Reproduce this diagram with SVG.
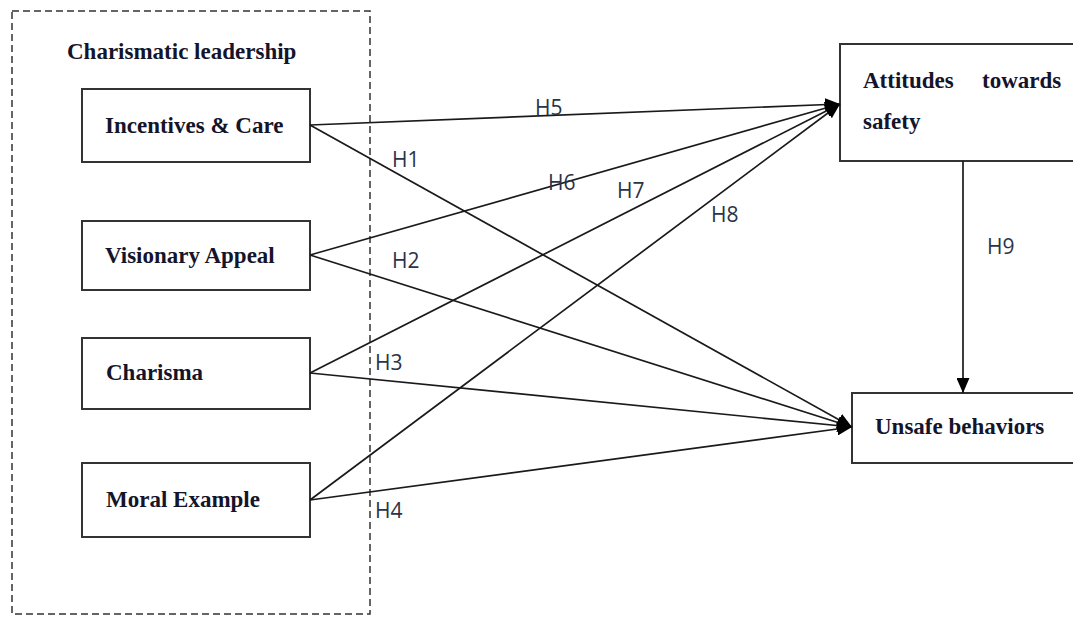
<svg xmlns="http://www.w3.org/2000/svg" width="1073" height="617" viewBox="0 0 1073 617">
  <style>
    .box { fill: #ffffff; stroke: #333333; stroke-width: 2; }
    .group { fill: none; stroke: #333333; stroke-width: 1.5; stroke-dasharray: 7 4; }
    .node-text { font-family: "Liberation Serif", "Times New Roman", serif; font-weight: bold; font-size: 23px; fill: #14142a; }
    .conn { fill: none; stroke: #1a1a1a; stroke-width: 1.7; }
    .lbl { font-family: "Open Sans", "Liberation Sans", sans-serif; font-size: 21px; fill: #2a3348; }
  </style>
  <defs>
    <marker id="arrow" markerUnits="userSpaceOnUse" markerWidth="15" markerHeight="13" refX="15" refY="6.5" orient="auto">
      <path d="M0,0 L15,6.5 L0,13 z" fill="#000000"/>
    </marker>
  </defs>
  <rect x="0" y="0" width="1073" height="617" fill="#ffffff"/>

  <g id="charismatic-leadership">
    <rect class="group" x="12" y="11" width="358" height="603"/>
    <text class="node-text" x="67" y="59">Charismatic leadership</text>
  </g>

  <g id="incentives-care">
    <rect class="box" x="82" y="89" width="228" height="73"/>
    <text class="node-text" x="105" y="133">Incentives &amp; Care</text>
  </g>

  <g id="visionary-appeal">
    <rect class="box" x="82" y="221" width="228" height="69"/>
    <text class="node-text" x="105" y="263">Visionary Appeal</text>
  </g>

  <g id="charisma">
    <rect class="box" x="82" y="338" width="228" height="71"/>
    <text class="node-text" x="106" y="380">Charisma</text>
  </g>

  <g id="moral-example">
    <rect class="box" x="82" y="463" width="228" height="74"/>
    <text class="node-text" x="106" y="507">Moral Example</text>
  </g>

  <g id="attitudes-towards-safety">
    <rect class="box" x="840" y="44" width="245" height="117"/>
    <text class="node-text" x="863" y="88">Attitudes</text>
    <text class="node-text" x="982" y="88">towards</text>
    <text class="node-text" x="863" y="129">safety</text>
  </g>

  <g id="unsafe-behaviors">
    <rect class="box" x="852" y="393" width="233" height="70"/>
    <text class="node-text" x="875" y="434">Unsafe behaviors</text>
  </g>

  <g id="connectors">
    <line class="conn" x1="310" y1="125" x2="840" y2="104" marker-end="url(#arrow)"/>
    <line class="conn" x1="310" y1="125" x2="852" y2="427" marker-end="url(#arrow)"/>
    <line class="conn" x1="310" y1="255" x2="840" y2="104" marker-end="url(#arrow)"/>
    <line class="conn" x1="310" y1="255" x2="852" y2="427" marker-end="url(#arrow)"/>
    <line class="conn" x1="310" y1="373" x2="840" y2="104" marker-end="url(#arrow)"/>
    <line class="conn" x1="310" y1="373" x2="852" y2="427" marker-end="url(#arrow)"/>
    <line class="conn" x1="310" y1="500" x2="840" y2="104" marker-end="url(#arrow)"/>
    <line class="conn" x1="310" y1="500" x2="852" y2="427" marker-end="url(#arrow)"/>
    <line class="conn" x1="963" y1="161" x2="963" y2="393" marker-end="url(#arrow)"/>
    <text class="lbl" x="535" y="115">H5</text>
    <text class="lbl" x="392" y="167">H1</text>
    <text class="lbl" x="548" y="190">H6</text>
    <text class="lbl" x="617" y="198">H7</text>
    <text class="lbl" x="711" y="222">H8</text>
    <text class="lbl" x="392" y="268">H2</text>
    <text class="lbl" x="375" y="370">H3</text>
    <text class="lbl" x="375" y="518">H4</text>
    <text class="lbl" x="987" y="254">H9</text>
  </g>
</svg>
